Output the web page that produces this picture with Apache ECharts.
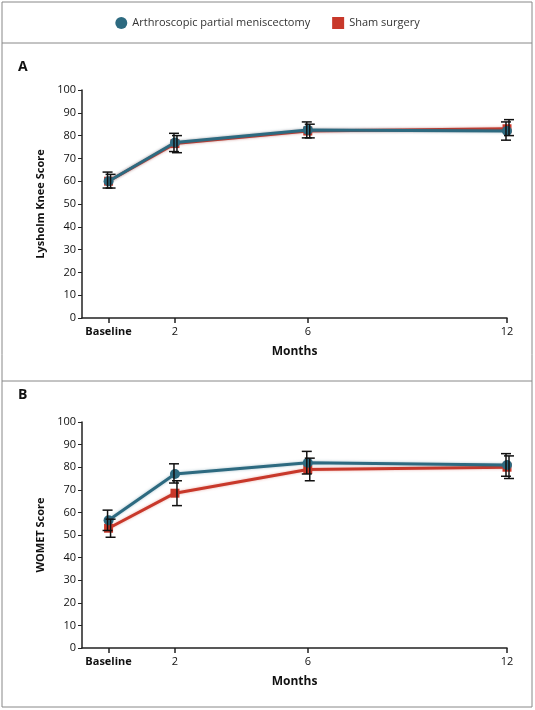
<!DOCTYPE html><html><head><meta charset="utf-8"><script src="https://cdn.jsdelivr.net/npm/echarts@6/dist/echarts.min.js"></script>
<style>html,body{margin:0;padding:0;background:#fff}#c{width:535px;height:710px}</style></head><body><div id="c"></div><script>
const months=[0,2,6,12];
const tickLabels={0:'Baseline',2:'2',6:'6',12:'12'};
const seriesNames=['Arthroscopic partial meniscectomy','Sham surgery'];
const lysArthro=[60,77,82.5,82];
const lysArthroLo=[57,73,79,78];
const lysArthroHi=[64,81,86,86];
const lysSham=[60,76.5,82,83];
const lysShamLo=[57,72.5,79,80];
const lysShamHi=[63,80,85,87];
const womArthro=[56.5,77,82,81];
const womArthroLo=[52,73,77,76];
const womArthroHi=[61,81.5,87,86];
const womSham=[53,68.5,79,80];
const womShamLo=[49,63,74,75];
const womShamHi=[57,74,84,85];
const BLUE='#2d6a80',RED='#c8382a',F='Open Sans';
function pts(v){return months.map((m,i)=>[m,v[i]]);}
function err(lo,hi,gi,dx){return {type:'custom',xAxisIndex:gi,yAxisIndex:gi,z:5,silent:true,
 data:months.map((m,i)=>[m,lo[i],hi[i]]),
 renderItem:(p,api)=>{const a=api.coord([api.value(0),api.value(1)]),b=api.coord([api.value(0),api.value(2)]);const x=a[0]+dx;const w=5;
 const st={stroke:'#111',lineWidth:1.5};
 return {type:'group',children:[{type:'line',shape:{x1:x,y1:a[1],x2:x,y2:b[1]},style:st},{type:'line',shape:{x1:x-w,y1:a[1],x2:x+w,y2:a[1]},style:st},{type:'line',shape:{x1:x-w,y1:b[1],x2:x+w,y2:b[1]},style:st}]};}};}
function line(name,v,gi,color,sym,z){return {type:'line',name,xAxisIndex:gi,yAxisIndex:gi,data:pts(v),z,color,
 lineStyle:{width:3,color,shadowColor:color+'66',shadowBlur:3},symbol:sym,symbolSize:sym==='rect'?9:10,itemStyle:{color}};}
const xa=gi=>({type:'value',gridIndex:gi,min:-0.8,max:12,interval:1,
 axisLine:{lineStyle:{color:'#222',width:1.5}},axisTick:{customValues:months,length:5,lineStyle:{color:'#222',width:1.5}},
 axisLabel:{customValues:months,formatter:v=>v===0?'{b|Baseline}':tickLabels[v],color:'#111',fontFamily:F,fontSize:11,
  rich:{b:{fontFamily:F,fontSize:11,fontWeight:'bold',color:'#111'}}},splitLine:{show:false},
 name:'Months',nameLocation:'middle',nameGap:28,nameTextStyle:{fontFamily:F,fontSize:12,fontWeight:'bold',color:'#111'}});
const ya=(gi,name)=>({type:'value',gridIndex:gi,min:0,max:100,interval:10,
 axisLine:{show:true,onZero:false,lineStyle:{color:'#222',width:1.5}},axisTick:{show:true,length:4,lineStyle:{color:'#222'}},
 axisLabel:{color:'#111',fontFamily:F,fontSize:11,margin:6},splitLine:{show:false},
 name,nameLocation:'middle',nameGap:36,nameTextStyle:{fontFamily:F,fontSize:11,fontWeight:'bold',color:'#111'}});
const chart=echarts.init(document.getElementById('c'));
chart.setOption({animation:false,
 legend:{top:12,left:'center',data:[{name:seriesNames[0],icon:'circle'},{name:seriesNames[1],icon:'rect'}],itemWidth:12,itemHeight:12,itemGap:22,
  textStyle:{fontFamily:F,fontSize:11,color:'#333'}},
 graphic:[
  {type:'rect',shape:{x:2,y:2,width:530,height:705},style:{fill:'none',stroke:'#888',lineWidth:1}},
  {type:'line',shape:{x1:2,y1:43,x2:532,y2:43},style:{stroke:'#888',lineWidth:1}},
  {type:'line',shape:{x1:2,y1:381,x2:532,y2:381},style:{stroke:'#888',lineWidth:1}},
  {type:'text',left:18,top:60,style:{text:'A',font:'bold 14px "Open Sans"',fill:'#111'}},
  {type:'text',left:18,top:388,style:{text:'B',font:'bold 14px "Open Sans"',fill:'#111'}}],
 grid:[{left:82,right:28,top:90,height:228},{left:82,right:28,top:422,height:226}],
 xAxis:[xa(0),xa(1)],yAxis:[ya(0,'Lysholm Knee Score'),ya(1,'WOMET Score')],
 series:[
  line(seriesNames[1],lysSham,0,RED,'rect',3),line(seriesNames[0],lysArthro,0,BLUE,'circle',4),
  err(lysArthroLo,lysArthroHi,0,-1),err(lysShamLo,lysShamHi,0,2),
  line(seriesNames[1],womSham,1,RED,'rect',3),line(seriesNames[0],womArthro,1,BLUE,'circle',4),
  err(womArthroLo,womArthroHi,1,-1),err(womShamLo,womShamHi,1,2)]});
</script></body></html>
